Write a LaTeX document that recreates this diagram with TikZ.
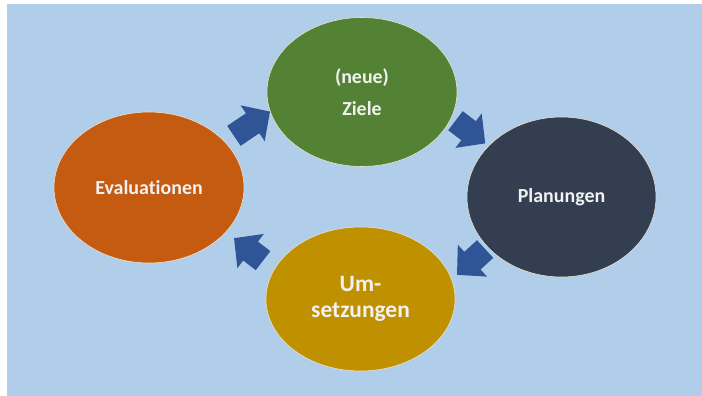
\documentclass[tikz,border=0pt]{standalone}
\usepackage{fontspec}
\setmainfont{Carlito}[Ligatures=NoCommon]
\usetikzlibrary{shapes.geometric, positioning, arrows.meta}
\definecolor{hgblau}{RGB}{176,206,234}
\definecolor{zielgruen}{RGB}{84,130,53}
\definecolor{plannacht}{RGB}{51,63,80}
\definecolor{umsetzgold}{RGB}{191,144,0}
\definecolor{evalorange}{RGB}{197,90,17}
\definecolor{pfeilblau}{RGB}{47,85,151}
\definecolor{textweiss}{RGB}{242,242,242}
\definecolor{randcreme}{RGB}{236,226,204}
\tikzset{
  zyklus/.style={ellipse, draw=randcreme, line width=0.5pt, text=textweiss,
    font=\bfseries\fontsize{17}{27}\selectfont, align=center, inner sep=0pt},
  pfeil/.style={draw=pfeilblau, line width=7.2mm, -{Triangle[width=12.6mm, length=6.3mm]}}
}

\begin{document}
\begin{tikzpicture}[x=0.3mm, y=-0.3mm]
            \fill [white] (0,0) rectangle (702,396);          % white page
            \useasboundingbox (0,0) rectangle (702,396);
            \fill [hgblau] (7,4) rectangle (702,396);         % light blue background
            \node [zyklus, fill=zielgruen, minimum width=57mm, minimum height=44.7mm] (ziele) at (362,92) {(neue)\\Ziele};          % top
            \node [zyklus, fill=plannacht, minimum width=56.7mm, minimum height=48mm] (planung) at (561.5,197) {Planungen};          % right
            \node [zyklus, fill=umsetzgold, minimum width=56.7mm, minimum height=43.2mm,
                   font=\bfseries\fontsize{20}{22}\selectfont] (umsetz) at (360.5,299) {Um-\\setzungen};   % bottom
            \node [zyklus, fill=evalorange, minimum width=57mm, minimum height=45.3mm] (eval) at (149,187.5) {Evaluationen};    % left
            \draw [pfeil, shorten <=3.2mm] (eval.31) -- (ziele.192);                       % arrow to the goals
            \draw [pfeil, shorten <=1.5mm, shorten >=1.2mm] (ziele.-16) -- (planung.145);  % arrow to planning
            \draw [pfeil, shorten <=0.9mm, shorten >=2.1mm] (planung.214) -- (umsetz.12);  % arrow to realisation
            \draw [pfeil, shorten <=4.2mm, shorten >=3mm] (umsetz.161) -- (eval.-30);      % arrow to evaluation
    \end{tikzpicture}
\end{document}
